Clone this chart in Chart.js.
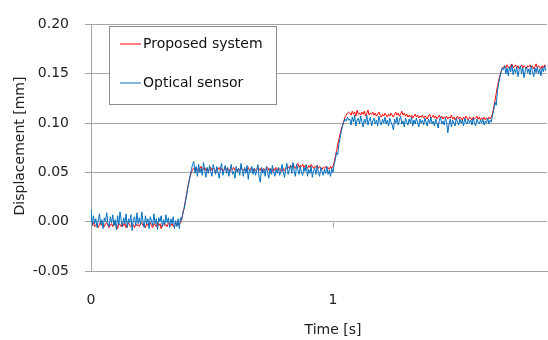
<!DOCTYPE html>
<html>
<head>
<meta charset="utf-8">
<script src="https://cdn.jsdelivr.net/npm/chart.js@4"></script>
<style>
  body { margin: 0; background: #fff; }
  #wrap { width: 548px; height: 340px; }
</style>
</head>
<body>
<div id="wrap"><canvas id="chart" width="548" height="340"></canvas></div>
<script>
// sample interval of the recording [s]
const sampleStep = 0.005;
const xTicks = [0, 1];
const yTicks = [-0.05, 0.00, 0.05, 0.10, 0.15, 0.20];
const seriesNames = ['Proposed system', 'Optical sensor'];

// Proposed system [mm]
const proposed = [
  -0.002,-0.004,-0.001,-0.005,-0.003,-0.002,-0.006,-0.003,0.000,-0.004,
  -0.003,-0.005,-0.002,-0.001,-0.004,-0.006,-0.003,-0.002,-0.005,-0.001,
  -0.004,-0.003,-0.007,-0.002,-0.003,-0.005,-0.001,-0.004,-0.002,-0.006,
  -0.003,-0.001,-0.004,-0.005,-0.002,-0.003,-0.006,-0.002,-0.004,-0.003,
  -0.005,-0.002,-0.001,-0.004,-0.003,-0.006,-0.002,-0.004,-0.003,-0.001,
  -0.004,-0.006,-0.002,-0.003,-0.005,-0.001,-0.004,-0.002,-0.007,-0.003,
  -0.002,-0.004,-0.003,-0.005,-0.001,-0.003,-0.004,-0.002,-0.005,-0.003,
  -0.001,-0.004,-0.002,-0.003,
  -0.001,0.003,0.008,0.014,0.021,0.028,0.035,0.041,0.046,0.050,0.053,
  0.054,0.052,0.055,0.053,0.051,0.054,0.056,0.052,0.053,0.055,
  0.052,0.054,0.051,0.053,0.055,0.052,0.054,0.053,0.050,0.054,
  0.053,0.055,0.052,0.054,0.051,0.053,0.056,0.052,0.054,0.053,
  0.051,0.054,0.053,0.055,0.052,0.053,0.051,0.054,0.052,0.055,
  0.053,0.052,0.054,0.051,0.053,0.055,0.052,0.054,0.053,0.051,
  0.054,0.052,0.053,0.055,0.052,0.054,0.051,0.053,0.054,0.052,
  0.053,0.055,0.052,0.054,0.053,0.051,0.054,0.052,0.055,0.053,
  0.052,0.054,0.053,0.051,0.054,0.052,0.053,0.055,0.056,0.054,
  0.057,0.055,0.058,0.056,0.054,0.057,0.059,0.055,0.057,0.056,
  0.058,0.055,0.057,0.056,0.054,0.057,0.055,0.058,0.056,0.054,
  0.056,0.055,0.057,0.054,0.056,0.055,0.053,0.055,0.054,0.056,
  0.054,0.055,0.053,0.056,0.054,
  0.056,0.060,0.066,0.072,0.078,0.084,0.089,0.094,0.098,0.102,0.106,0.108,0.110,0.111,
  0.110,0.108,0.112,0.109,0.111,0.107,0.113,0.109,0.110,0.108,
  0.111,0.109,0.112,0.107,0.110,0.113,0.108,0.110,0.109,0.111,
  0.108,0.110,0.107,0.109,0.111,0.108,0.106,0.109,0.107,0.110,
  0.108,0.106,0.109,0.107,0.110,0.108,0.106,0.109,0.111,0.108,
  0.110,0.107,0.109,0.112,0.108,0.110,0.107,0.109,0.106,0.108,
  0.106,0.108,0.105,0.107,0.109,0.106,0.108,0.105,0.107,0.106,
  0.108,0.105,0.107,0.106,0.104,0.107,0.109,0.105,0.106,0.108,
  0.105,0.107,0.104,0.106,0.108,0.105,0.107,0.104,0.106,0.105,
  0.107,0.104,0.106,0.105,0.108,0.104,0.106,0.103,0.105,0.107,
  0.104,0.106,0.105,0.103,0.106,0.104,0.107,0.105,0.103,0.106,
  0.105,0.103,0.106,0.104,0.105,0.107,0.104,0.106,0.103,0.105,
  0.104,0.106,0.103,0.105,0.104,0.106,0.104,
  0.106,0.110,0.116,0.123,0.130,0.137,0.143,0.148,0.152,0.155,0.157,
  0.158,0.156,0.159,0.157,0.155,0.158,0.160,0.156,0.157,0.159,
  0.156,0.158,0.155,0.157,0.159,0.156,0.158,0.157,0.155,0.158,
  0.157,0.159,0.156,0.158,0.155,0.157,0.160,0.156,0.158,0.157,
  0.155,0.158,0.156,0.159,0.157
];

// Optical sensor [mm]
const optical = [
  0.013,-0.004,0.006,-0.002,0.003,-0.006,0.001,0.008,-0.003,0.002,
  -0.007,0.004,0.000,0.009,-0.002,-0.005,0.005,-0.001,0.007,-0.004,
  0.002,-0.008,0.006,-0.003,0.010,0.001,-0.005,0.004,-0.002,0.008,
  -0.006,0.003,-0.001,0.007,-0.009,0.002,0.005,-0.004,0.009,-0.002,
  0.004,-0.003,0.010,0.000,-0.006,0.006,-0.002,0.003,-0.007,0.005,
  0.001,-0.004,0.008,-0.002,0.003,-0.008,0.004,0.000,0.006,-0.005,
  0.002,-0.003,0.007,-0.001,0.004,-0.006,0.003,-0.002,0.005,-0.007,
  0.001,-0.005,0.003,-0.007,
  0.004,0.002,0.010,0.013,0.020,0.026,0.034,0.040,0.047,0.053,0.058,
  0.061,0.049,0.056,0.046,0.058,0.050,0.054,0.047,0.060,0.052,
  0.045,0.055,0.049,0.057,0.051,0.046,0.058,0.053,0.048,0.056,
  0.050,0.044,0.054,0.059,0.047,0.052,0.057,0.049,0.055,0.046,
  0.053,0.058,0.048,0.051,0.044,0.056,0.050,0.054,0.047,0.059,
  0.052,0.046,0.055,0.049,0.057,0.043,0.053,0.050,0.056,0.048,
  0.054,0.047,0.052,0.058,0.045,0.040,0.055,0.049,0.053,0.046,
  0.056,0.050,0.044,0.054,0.048,0.057,0.051,0.046,0.053,0.049,
  0.055,0.047,0.052,0.058,0.050,0.045,0.054,0.059,0.048,0.053,
  0.057,0.049,0.060,0.051,0.046,0.058,0.053,0.048,0.056,0.050,
  0.047,0.055,0.051,0.058,0.046,0.053,0.049,0.056,0.045,0.052,
  0.054,0.048,0.057,0.050,0.046,0.055,0.051,0.047,0.053,0.049,
  0.056,0.048,0.052,0.046,0.054,
  0.050,0.058,0.063,0.070,0.068,0.079,0.085,0.092,0.097,0.101,0.104,0.102,0.106,0.103,
  0.104,0.098,0.106,0.101,0.108,0.097,0.103,0.105,0.099,0.107,
  0.101,0.096,0.104,0.100,0.108,0.098,0.103,0.106,0.097,0.102,
  0.105,0.099,0.103,0.097,0.107,0.101,0.098,0.104,0.100,0.106,
  0.099,0.103,0.097,0.105,0.101,0.098,0.093,0.104,0.100,0.106,
  0.098,0.103,0.107,0.099,0.102,0.096,0.105,0.101,0.098,0.104,
  0.100,0.106,0.097,0.103,0.099,0.105,0.101,0.096,0.104,0.100,
  0.103,0.098,0.105,0.101,0.097,0.104,0.100,0.106,0.099,0.102,
  0.097,0.104,0.100,0.095,0.103,0.106,0.099,0.102,0.098,0.105,
  0.101,0.090,0.099,0.104,0.096,0.103,0.100,0.097,0.105,0.101,
  0.098,0.104,0.100,0.103,0.097,0.105,0.101,0.099,0.104,0.100,
  0.103,0.098,0.105,0.100,0.097,0.104,0.101,0.099,0.103,0.100,
  0.104,0.098,0.102,0.100,0.105,0.099,0.103,
  0.101,0.108,0.113,0.121,0.118,0.132,0.140,0.146,0.152,0.156,0.154,
  0.158,0.150,0.156,0.148,0.157,0.152,0.159,0.149,0.155,0.151,
  0.157,0.147,0.154,0.158,0.150,0.156,0.146,0.153,0.157,0.151,
  0.155,0.149,0.158,0.152,0.147,0.156,0.151,0.157,0.150,0.155,
  0.148,0.156,0.152,0.158,0.153
];

const times = proposed.map((_, i) => i * sampleStep);
const colors = ['#ff0000', '#0070c0'];
const gridColor = '#a6a6a6';
const font = '"DejaVu Sans", Verdana, sans-serif';

const toPoints = (arr) => arr.map((v, i) => ({ x: times[i], y: v }));

// titles, legend box and the small ticks on the zero line
const extras = {
  id: 'extras',
  afterDraw(chart) {
    const ctx = chart.ctx;
    const xs = chart.scales.x, ys = chart.scales.y;
    ctx.save();

    ctx.strokeStyle = gridColor;
    ctx.lineWidth = 1;
    const y0 = Math.round(ys.getPixelForValue(0)) + 0.5;
    xTicks.forEach(v => {
      const px = Math.round(xs.getPixelForValue(v)) + 0.5;
      ctx.beginPath();
      ctx.moveTo(px, y0);
      ctx.lineTo(px, y0 + 5);
      ctx.stroke();
    });

    ctx.fillStyle = '#222';
    ctx.font = '14px ' + font;
    ctx.textAlign = 'center';
    ctx.textBaseline = 'middle';
    ctx.fillText('Time [s]', 333, 330);
    ctx.save();
    ctx.translate(20, 146);
    ctx.rotate(-Math.PI / 2);
    ctx.fillText('Displacement [mm]', 0, 0);
    ctx.restore();

    // legend
    ctx.fillStyle = '#fff';
    ctx.fillRect(109.5, 26.5, 167, 78);
    ctx.strokeStyle = '#8c8c8c';
    ctx.strokeRect(109.5, 26.5, 167, 78);
    ctx.textAlign = 'left';
    [44, 83].forEach((ly, i) => {
      ctx.strokeStyle = colors[i];
      ctx.beginPath();
      ctx.moveTo(120, ly);
      ctx.lineTo(141, ly);
      ctx.stroke();
      ctx.fillStyle = '#111';
      ctx.fillText(seriesNames[i], 143, ly);
    });
    ctx.restore();
  }
};

new Chart(document.getElementById('chart'), {
  type: 'line',
  data: {
    datasets: [
      { label: seriesNames[0], data: toPoints(proposed), borderColor: colors[0], borderWidth: 1, pointRadius: 0, order: 2 },
      { label: seriesNames[1], data: toPoints(optical), borderColor: colors[1], borderWidth: 1, pointRadius: 0, order: 1 }
    ]
  },
  options: {
    responsive: false,
    animation: false,
    layout: { padding: { top: 18, right: 1, left: 0, bottom: 0 } },
    plugins: { legend: { display: false }, tooltip: { enabled: false } },
    scales: {
      x: {
        type: 'linear',
        min: 0,
        max: 1.885,
        afterBuildTicks: (s) => { s.ticks = xTicks.map(v => ({ value: v })); },
        afterFit: (s) => { s.height = 69; },
        grid: { display: false, drawTicks: false },
        border: { display: true, color: gridColor },
        ticks: { padding: 21, maxRotation: 0, color: '#222', font: { family: font, size: 14 }, callback: v => String(v) }
      },
      y: {
        min: -0.05,
        max: 0.20,
        afterBuildTicks: (s) => { s.ticks = yTicks.map(v => ({ value: v })); },
        afterFit: (s) => { s.width = 91; },
        grid: { color: gridColor, tickLength: 6 },
        border: { display: true, color: gridColor },
        ticks: { padding: 16, color: '#222', font: { family: font, size: 14 }, callback: v => v.toFixed(2) }
      }
    }
  },
  plugins: [extras]
});
</script>
</body>
</html>
